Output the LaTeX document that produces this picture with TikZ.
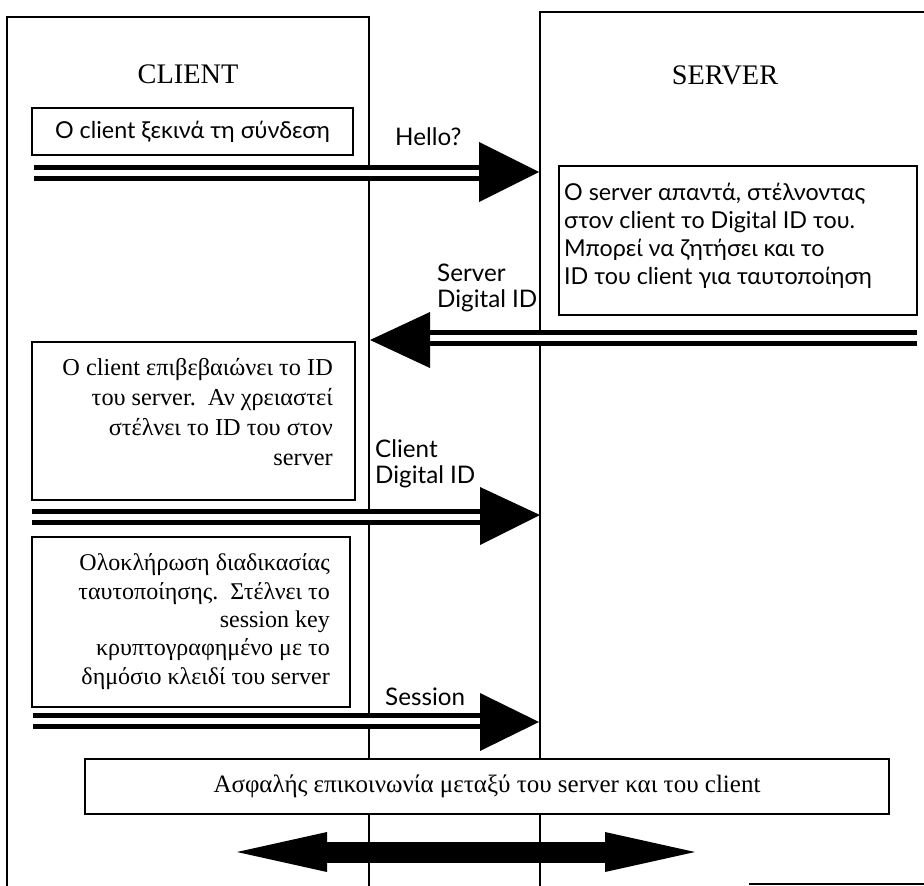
\documentclass[tikz,border=0pt]{standalone}
\usepackage{fontspec}
\setmainfont{Liberation Serif}
\newfontfamily\lblfont{Lato}
\usetikzlibrary{arrows.meta}
\begin{document}
\begin{tikzpicture}[x=1pt,y=-1pt,
  lane/.style={line width=1.4pt},
  stepbox/.style={draw, fill=white, line width=1.8pt, inner sep=0pt},
  sanstext/.style={font=\lblfont\fontsize{23.3}{28}\selectfont, inner sep=0pt},
  seriftext/.style={font=\fontsize{24.3}{30}\selectfont, inner sep=0pt},
  lbl/.style={font=\lblfont\fontsize{24.2}{26}\selectfont, inner sep=0pt, anchor=west, align=left},
  title/.style={font=\fontsize{28.3}{32}\selectfont},
  shaft/.style={double, line width=5pt, double distance=6pt},
  head/.style={fill=black},
  bold/.style={line width=21pt,
    {Triangle[length=90pt,width=40pt,line width=0pt]}-{Triangle[length=90pt,width=40pt,line width=0pt]}}
]
\useasboundingbox (0,0) rectangle (924,886);

% swim lanes
\draw[lane] (7,900) -- (7,17) -- (369,17) -- (369,900);
\draw[lane] (540,900) -- (540,12) -- (930,12);
\draw[lane] (749,884) -- (930,884);

% lane titles
\node[title] (client) at (188,74) {CLIENT};
\node[title] (server) at (725,75) {SERVER};

% step 1: client opens the connection
\node[stepbox, minimum width=321pt, minimum height=47pt, sanstext] (start) at (192.5,131.5) {O client ξεκινά τη σύνδεση};
\node[lbl] (hello) at (395,137) {Hello?};
\coordinate (a1s) at (34,172.5);
\coordinate (a1b) at (481,172.5);
\coordinate (a1t) at (539,172);
\draw[shaft] (a1s) -- (a1b);
\fill[head] (a1t) -- (479,142) -- (479,202) -- cycle;

% step 2: server replies with its Digital ID
\node[stepbox, minimum width=358pt, minimum height=149pt] (reply) at (738,240.5) {};
\node[sanstext, anchor=west, align=left] (replytext) at (564,236)
  {O server απαντά, στέλνοντας\\στον client το Digital ID του.\\Μπορεί να ζητήσει και το\\ID του client για ταυτοποίηση};
\node[lbl] (sid) at (437,288) {Server\\Digital ID};
\coordinate (a2s) at (917,337.5);
\coordinate (a2b) at (428,337.5);
\coordinate (a2t) at (370,340);
\draw[shaft] (a2s) -- (a2b);
\fill[head] (a2t) -- (430,312) -- (430,368) -- cycle;

% step 3: client checks the ID and sends its own
\node[stepbox, minimum width=323pt, minimum height=158pt] (verify) at (193.5,421) {};
\node[seriftext, anchor=east, align=right] (verifytext) at (333,412)
  {O client επιβεβαιώνει το ID\\του server.\ \ Αν χρειαστεί\\στέλνει το ID του στον\\server};
\node[lbl] (cid) at (375,464) {Client\\Digital ID};
\coordinate (a3s) at (32,516.5);
\coordinate (a3b) at (482,516.5);
\coordinate (a3t) at (540,515);
\draw[shaft] (a3s) -- (a3b);
\fill[head] (a3t) -- (480,487) -- (480,545) -- cycle;

% step 4: session key
\node[stepbox, minimum width=318pt, minimum height=170pt] (finish) at (191,622) {};
\node[seriftext, anchor=east, align=right, font=\fontsize{24}{28.3}\selectfont] (finishtext) at (330,621.5)
  {Ολοκλήρωση διαδικασίας\\ταυτοποίησης.\ \ Στέλνει το\\session key\\κρυπτογραφημένο με το\\δημόσιο κλειδί του server};
\node[lbl] (sess) at (385,697) {Session};
\coordinate (a4s) at (33,721);
\coordinate (a4b) at (482,721);
\coordinate (a4t) at (539,722);
\draw[shaft] (a4s) -- (a4b);
\fill[head] (a4t) -- (480,693) -- (480,751) -- cycle;

% secure channel
\node[stepbox, minimum width=804pt, minimum height=55pt, seriftext, font=\fontsize{25}{30}\selectfont] (secure) at (487,786.5)
  {Ασφαλής επικοινωνία μεταξύ του server και του client};
\coordinate (bl) at (237,852);
\coordinate (br) at (695,852);
\draw[bold] (bl) -- (br);
\end{tikzpicture}
\end{document}
